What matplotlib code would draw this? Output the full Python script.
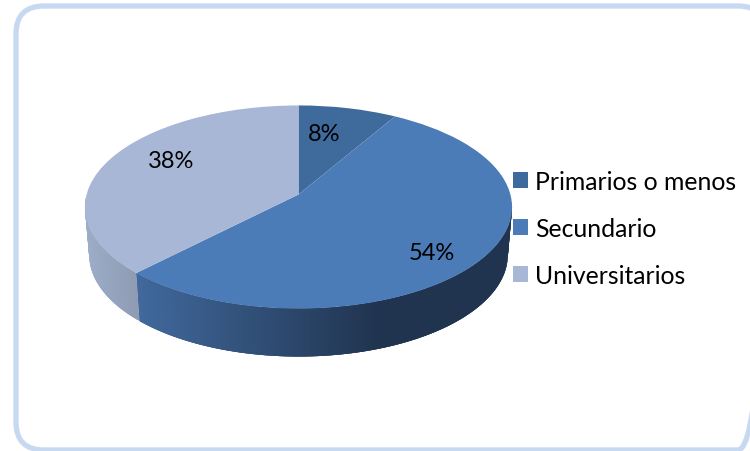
import numpy as np
import matplotlib
matplotlib.use("Agg")
import matplotlib.pyplot as plt
from matplotlib.patches import FancyBboxPatch
from matplotlib.transforms import Transform
from matplotlib.colors import to_rgb

# Data
categories = ["Primarios o menos", "Secundario", "Universitarios"]
values = [8.4, 53.9, 37.7]
colors = ["#3f6a9c", "#4c7cb8", "#a8b7d6"]
font = "Lato"

# Projection of the unit disc to image pixels
CX, CY, A, B, K = 298.5, 195.5, 211.9, 100.0, 0.123
DEPTH, SX = 48.0, 0.98


class Persp(Transform):
    input_dims = output_dims = 2
    is_separable = False
    has_inverse = False

    def transform_non_affine(self, v):
        v = np.asarray(v, float)
        den = 1 + K * v[:, 1]
        return np.column_stack([CX + A * v[:, 0] / den, CY - B * v[:, 1] / den])


fig = plt.figure(figsize=(7.5, 4.52), dpi=100)
ax = fig.add_axes([0, 0, 1, 1])

wedges, _ = ax.pie(values, colors=colors, startangle=90, counterclock=False,
                   radius=1, wedgeprops=dict(linewidth=0))
ax.set_aspect("auto")
ax.set_xlim(0, 750)
ax.set_ylim(452, 0)
ax.axis("off")
for w in wedges:
    w.set_transform(Persp() + ax.transData)
    w.set_zorder(3)


def rim(th):
    x, y = np.sin(th), np.cos(th)
    den = 1 + K * y
    top = np.column_stack([CX + A * x / den, CY - B * y / den])
    low = np.column_stack([CX + SX * A * x / den, CY + DEPTH - B * y / den])
    return top, low


def mix(c0, c1, t):
    c0, c1 = np.array(to_rgb(c0)), np.array(to_rgb(c1))
    return tuple(c0 + (c1 - c0) * t)


# Side wall: overlapping thin strips, painted in order so no seams show
boundaries = np.cumsum([0] + values) / 100 * 2 * np.pi
shades = [("#3f6a9c", "#3f6a9c", 0, 1),
          ("#41699d", "#20344f", 137, 380),
          ("#9dadc8", "#8e9bb3", 85, 137)]
start, stop = np.radians(94), np.radians(268)
for i in range(3):
    a0, a1 = max(boundaries[i], start), min(boundaries[i + 1], stop)
    if a1 <= a0:
        continue
    grid = np.linspace(a0, a1, int(np.degrees(a1 - a0)) * 2 + 2)
    c0, c1, x0, x1 = shades[i]
    for j in range(len(grid) - 1):
        seg = grid[j:j + 4]
        top, low = rim(seg)
        t = np.clip((top[0, 0] - x0) / (x1 - x0), 0, 1)
        ax.fill(np.r_[top[:, 0], low[::-1, 0]], np.r_[top[:, 1], low[::-1, 1]],
                color=mix(c0, c1, t), lw=0, zorder=2)

# Percent labels
label_xy = [(324, 135), (432, 253), (171, 162)]
for v, (x, y) in zip(values, label_xy):
    ax.text(x, y, f"{round(v)}%", ha="center", va="center", family=font,
            fontsize=17, color="black", zorder=4)

# Rounded frame
ax.add_patch(FancyBboxPatch((16, 7), 750, 444,
                            boxstyle="round,pad=0,rounding_size=28",
                            fc="none", ec="#c6d9f1", lw=3.8, zorder=1))

# Legend
leg = ax.legend(wedges, categories, loc="upper left",
                bbox_to_anchor=(513 / 750, 1 - 171 / 452),
                frameon=False, borderpad=0, borderaxespad=0,
                handlelength=0.6, handleheight=0.6, handletextpad=0.3,
                labelspacing=0.97, prop=dict(family=font, size=17.8))
for t in leg.get_texts():
    t.set_color("black")

fig.savefig("out.png", dpi=100)
